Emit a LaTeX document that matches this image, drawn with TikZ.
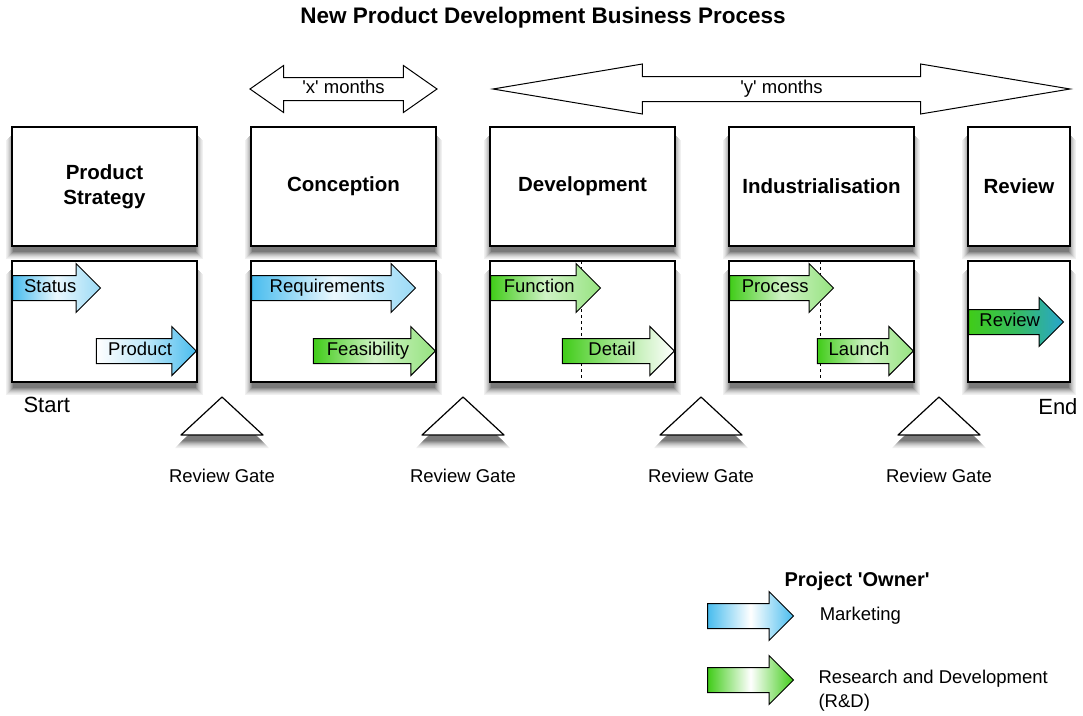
\documentclass[tikz,border=0pt]{standalone}
\usepackage{fontspec}
\setmainfont{Liberation Sans}
\usetikzlibrary{positioning,shapes.arrows}

\definecolor{mktblue}{RGB}{72,188,238}
\definecolor{rdgreen}{RGB}{64,204,24}
\definecolor{revteal}{RGB}{40,165,205}

\begin{document}
\begin{tikzpicture}[x=1pt,y=-1pt,
  every node/.style={font=\fontsize{18.5}{22}\selectfont},
  phase/.style={draw,line width=1.4pt,fill=white,minimum width=185pt,minimum height=119pt,inner sep=0pt,outer sep=0pt,align=center,font=\fontsize{20.5}{25}\selectfont\bfseries},
  task box/.style={phase,minimum height=121pt},
  task/.style={single arrow,draw,line width=1pt,single arrow head extend=12pt,inner ysep=4pt,inner xsep=4pt,text height=12pt,text depth=4pt},
  mkt/.style={task,left color=mktblue,right color=mktblue!55,middle color=mktblue!12},
  rd/.style={task,left color=rdgreen,right color=rdgreen!55,middle color=rdgreen!25},
  span/.style={double arrow,draw,line width=1pt,fill=white,double arrow head extend=12pt,text height=12pt,text depth=4pt,inner ysep=3pt},
  gate/.style={draw,line width=1.2pt,fill=white,line join=round},
  ]
\useasboundingbox (0,0) rectangle (1083,715);

% shadows
\foreach \bx/\bw in {12/185,251/185,490/185,729/185,968/102}
  \foreach \sx/\sy/\sv in {6/13/240,5/12/230,4/11/217,3/10/201,2/9/184,1/8/163,0/7/143,-1/6/122}{
    \path[fill={rgb,255:red,\sv;green,\sv;blue,\sv}] (\bx-\sx,127+\sy) rectangle (\bx+\bw+\sx,246+\sy);
    \path[fill={rgb,255:red,\sv;green,\sv;blue,\sv}] (\bx-\sx,261+\sy) rectangle (\bx+\bw+\sx,382+\sy);
  }
\foreach \gx in {222,463,701,939}
  \foreach \sx/\sy/\sv in {6/13/240,5/12/230,4/11/217,3/10/201,2/9/184,1/8/163,0/7/143,-1/6/122}
    \path[fill={rgb,255:red,\sv;green,\sv;blue,\sv}] (\gx,397+\sy) -- (\gx+41+\sx,435+\sy) -- (\gx-41-\sx,435+\sy) -- cycle;

\node[font=\fontsize{22.5}{26}\selectfont\bfseries] (title) at (543,18) {New Product Development Business Process};

% phases
\node[phase,anchor=north west] (p1) at (12,127) {Product\\Strategy};
\node[phase] (p2) [right=54pt of p1] {Conception};
\node[phase] (p3) [right=54pt of p2] {Development};
\node[phase] (p4) [right=54pt of p3] {Industrialisation};
\node[phase,minimum width=102pt] (p5) [right=54pt of p4] {Review};

\node[task box] (t1) [below=15pt of p1] {};
\node[task box] (t2) [below=15pt of p2] {};
\node[task box] (t3) [below=15pt of p3] {};
\node[task box] (t4) [below=15pt of p4] {};
\node[task box,minimum width=102pt] (t5) [below=15pt of p5] {};

\draw[dashed,line width=1pt] ([xshift=91pt]t3.north west) -- ([xshift=91pt]t3.south west);
\draw[dashed,line width=1pt] ([xshift=91pt]t4.north west) -- ([xshift=91pt]t4.south west);

% tasks
\node[mkt,minimum height=88pt,anchor=tail] (status) at ([yshift=-27pt]t1.north west) {Status};
\node[mkt,minimum height=100pt,anchor=tip,left color=white,right color=mktblue,middle color=mktblue!35] (product) at ([yshift=-90pt]t1.north east) {Product};
\node[mkt,minimum height=164pt,anchor=tail] (req) at ([yshift=-27pt]t2.north west) {Requirements};
\node[rd,minimum height=122pt,anchor=tip] (feas) at ([yshift=-90pt]t2.north east) {Feasibility};
\node[rd,minimum height=110pt,anchor=tail] (func) at ([yshift=-27pt]t3.north west) {Function};
\node[rd,minimum height=112pt,anchor=tip,left color=rdgreen,right color=white,middle color=rdgreen!45] (detail) at ([yshift=-90pt]t3.north east) {Detail};
\node[rd,minimum height=104pt,anchor=tail] (proc) at ([yshift=-27pt]t4.north west) {Process};
\node[rd,minimum height=96pt,anchor=tip] (launch) at ([yshift=-90pt]t4.north east) {Launch};
\node[task,minimum height=95pt,anchor=tail,left color=rdgreen,right color=revteal,middle color=rdgreen!60!revteal] (rev) at ([yshift=-61pt]t5.north west) {Review};

% spans
\node[span,minimum height=187pt,double arrow tip angle=70] (xmonths) at (343.5,89) {\textquotesingle x\textquotesingle\ months};
\node[span,minimum height=577pt,double arrow tip angle=19,inner ysep=4pt,double arrow head extend=12.5pt] (ymonths) at (781.5,89) {\textquotesingle y\textquotesingle\ months};

% gates
\foreach \gx [count=\i] in {222,463,701,939}{
  \draw[gate] (\gx,397) -- (\gx+41,435) -- (\gx-41,435) -- cycle;
  \node (gate\i) at (\gx,476) {Review Gate};
}

\node[font=\fontsize{22}{26}\selectfont,anchor=west] (start) at (20,405) {Start};
\node[font=\fontsize{22}{26}\selectfont,anchor=east] (end) at (1081,407) {End};

% legend
\node[font=\fontsize{20}{24}\selectfont\bfseries,anchor=west] (owner) at (781,581) {Project \textquotesingle Owner\textquotesingle};
\node[mkt,minimum height=86pt,anchor=tail,right color=mktblue,middle color=white] (lmkt) at (707,616) {};
\node[rd,minimum height=86pt,anchor=tail,right color=rdgreen,middle color=white] (lrd) at (707,680) {};
\node[anchor=west] (lmkttext) [right=22pt of lmkt.tip] {Marketing};
\node[align=left,anchor=north west,font=\fontsize{18.5}{24}\selectfont] (lrdtext) at (815,667) {Research and Development\\(R\&D)};
\end{tikzpicture}
\end{document}
